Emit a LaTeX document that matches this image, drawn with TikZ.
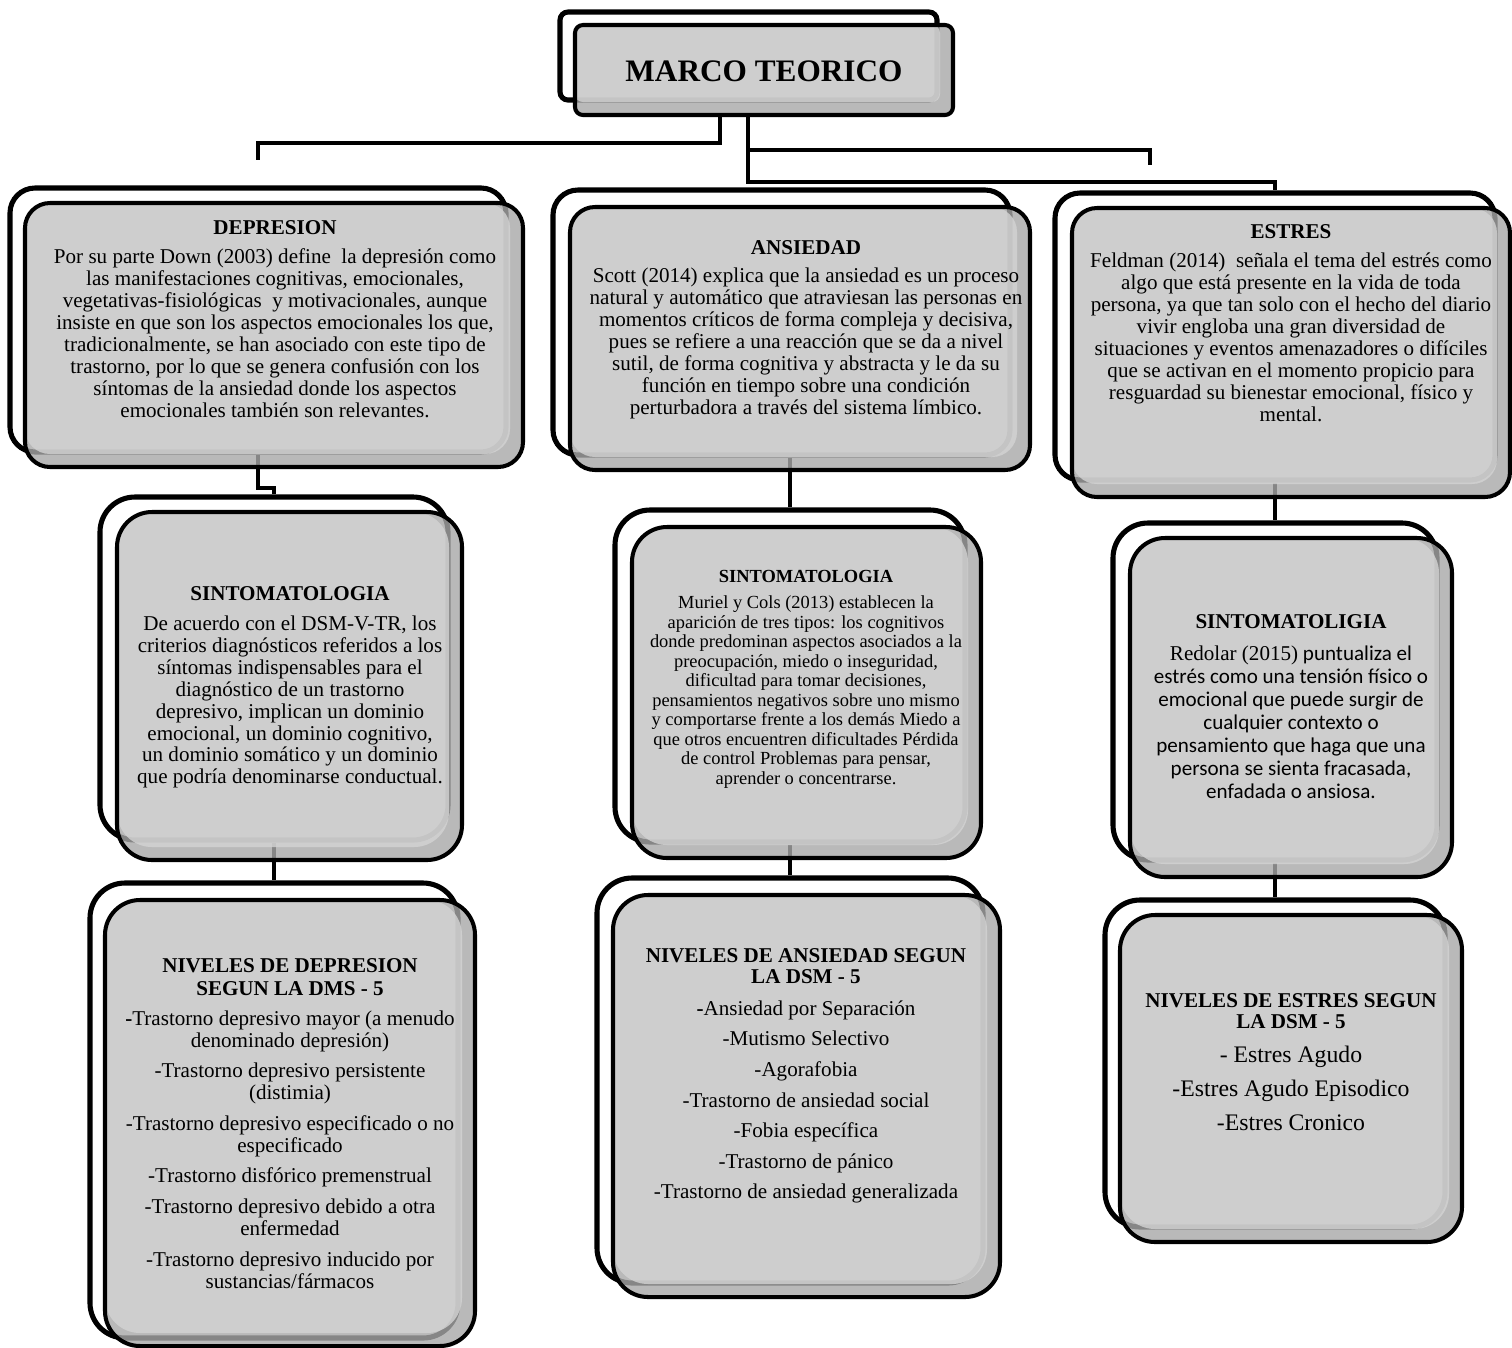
\documentclass[tikz,border=0pt]{standalone}
\usepackage{fontspec}
\setmainfont{Liberation Serif}
\newfontfamily\calibri{Carlito}
\usetikzlibrary{fit,backgrounds}

\definecolor{grisclaro}{HTML}{D4D4D4}
\definecolor{grisoscuro}{HTML}{A8A8A8}

\newcommand{\tit}[1]{{\fontsize{12}{12.5}\selectfont\bfseries #1}}

\tikzset{
	atras/.style={draw, line width=2.9pt, fill=white, inner sep=0pt, rounded corners=#1},
	frente/.style={draw, line width=2.3pt, fill=grisoscuro, fill opacity=0.8, inner sep=0pt, rounded corners=#1,
		path picture={\fill[grisclaro, rounded corners=#1] (path picture bounding box.north west) rectangle ([xshift=-0.26cm, yshift=0.26cm]path picture bounding box.south east);}},
	texto/.style={align=center, inner sep=0pt, anchor=north, font=\fontsize{12}{12.5}\selectfont},
	linea/.style={line width=2.3pt},
}

\begin{document}
\begin{tikzpicture}[x=0.02cm, y=-0.02cm]
	\useasboundingbox (0,0) rectangle (1512,1347);
	\clip (0,0) rectangle (1512,1347);

	\node[atras=0.16cm, fit={(560,12) (937,100)}] (marcoB) {};
	\node[frente=0.16cm, fit={(575,25) (953,115)}] (marco) {};
	\node[atras=0.5cm, fit={(10,188) (506,452)}] (depB) {};
	\node[frente=0.5cm, fit={(25,203) (523,467)}] (dep) {};
	\node[atras=0.5cm, fit={(553,190) (1010,455)}] (ansB) {};
	\node[frente=0.5cm, fit={(570,207) (1030,470)}] (ans) {};
	\node[atras=0.5cm, fit={(1055,193) (1495,480)}] (estB) {};
	\node[frente=0.5cm, fit={(1072,208) (1510,497)}] (est) {};
	\node[atras=0.7cm, fit={(100,497) (448,840)}] (sinLB) {};
	\node[frente=0.7cm, fit={(117,512) (462,860)}] (sinL) {};
	\node[atras=0.7cm, fit={(615,510) (965,842)}] (sinMB) {};
	\node[frente=0.7cm, fit={(632,527) (981,858)}] (sinM) {};
	\node[atras=0.7cm, fit={(1113,523) (1437,860)}] (sinRB) {};
	\node[frente=0.7cm, fit={(1130,538) (1452,877)}] (sinR) {};
	\node[atras=0.7cm, fit={(90,883) (458,1338)}] (nivDB) {};
	\node[frente=0.7cm, fit={(105,900) (475,1346)}] (nivD) {};
	\node[atras=0.7cm, fit={(597,878) (983,1283)}] (nivAB) {};
	\node[frente=0.7cm, fit={(613,895) (1000,1297)}] (nivA) {};
	\node[atras=0.7cm, fit={(1105,900) (1445,1227)}] (nivEB) {};
	\node[frente=0.7cm, fit={(1120,915) (1462,1242)}] (nivE) {};

	\node[texto, font=\fontsize{17.8}{20}\selectfont\bfseries] (marcoT) at (764,60) {MARCO TEORICO};

	\node[texto] (depT) at (275,220) {\tit{DEPRESION}\\[4pt]
		Por su parte Down (2003) define~ la depresión como\\
		las manifestaciones cognitivas, emocionales,\\
		vegetativas-fisiológicas~ y motivacionales, aunque\\
		insiste en que son los aspectos emocionales los que,\\
		tradicionalmente, se han asociado con este tipo de\\
		trastorno, por lo que se genera confusión con los\\
		síntomas de la ansiedad donde los aspectos\\
		emocionales también son relevantes.};

	\node[texto] (ansT) at (806,240) {\tit{ANSIEDAD}\\[3.4pt]
		Scott (2014) explica que la ansiedad es un proceso\\
		natural y automático que atraviesan las personas en\\
		momentos críticos de forma compleja y decisiva,\\
		pues se refiere a una reacción que se da a nivel\\
		sutil, de forma cognitiva y abstracta y le da su\\
		función en tiempo sobre una condición\\
		perturbadora a través del sistema límbico.};

	\node[texto] (estT) at (1291,224) {\tit{ESTRES}\\[4pt]
		Feldman (2014)~ señala el tema del estrés como\\
		algo que está presente en la vida de toda\\
		persona, ya que tan solo con el hecho del diario\\
		vivir engloba una gran diversidad de\\
		situaciones y eventos amenazadores o difíciles\\
		que se activan en el momento propicio para\\
		resguardad su bienestar emocional, físico y\\
		mental.};

	\node[texto] (sinLT) at (290,586) {\tit{SINTOMATOLOGIA}\\[4.5pt]
		De acuerdo con el DSM-V-TR, los\\
		criterios diagnósticos referidos a los\\
		síntomas indispensables para el\\
		diagnóstico de un trastorno\\
		depresivo, implican un dominio\\
		emocional, un dominio cognitivo,\\
		un dominio somático y un dominio\\
		que podría denominarse conductual.};

	\node[texto, font=\fontsize{10.5}{11.1}\selectfont] (sinMT) at (806,570) {\textbf{SINTOMATOLOGIA}\\[3.8pt]
		Muriel y Cols (2013) establecen la\\
		aparición de tres tipos: los cognitivos\\
		donde predominan aspectos asociados a la\\
		preocupación, miedo o inseguridad,\\
		dificultad para tomar decisiones,\\
		pensamientos negativos sobre uno mismo\\
		y comportarse frente a los demás Miedo a\\
		que otros encuentren dificultades Pérdida\\
		de control Problemas para pensar,\\
		aprender o concentrarse.};

	\node[texto, font=\calibri\fontsize{12}{13.1}\selectfont] (sinRT) at (1291,614) {\textrm{\tit{SINTOMATOLIGIA}}\\[5.1pt]
		\textrm{Redolar (2015)} puntualiza el\\
		estrés como una tensión físico o\\
		emocional que puede surgir de\\
		cualquier contexto o\\
		pensamiento que haga que una\\
		persona se sienta fracasada,\\
		enfadada o ansiosa.};

	\node[texto] (nivDT) at (290,958) {\tit{NIVELES DE DEPRESION}\\[0.6pt]
		\tit{SEGUN LA DMS - 5}\\[4.6pt]
		\textbf{-}Trastorno depresivo mayor (a menudo\\
		denominado depresión)\\[4.9pt]
		-Trastorno depresivo persistente\\
		(distimia)\\[4.9pt]
		-Trastorno depresivo especificado o no\\
		especificado\\[4.9pt]
		-Trastorno disfórico premenstrual\\[4.9pt]
		-Trastorno depresivo debido a otra\\
		enfermedad\\[4.9pt]
		-Trastorno depresivo inducido por\\
		sustancias/fármacos};

	\node[texto] (nivAT) at (806,948) {\tit{NIVELES DE ANSIEDAD SEGUN}\\[-0.5pt]
		\tit{LA DSM - 5}\\[5.7pt]
		\textbf{-}Ansiedad por Separación\\[4.9pt]
		-Mutismo Selectivo\\[4.9pt]
		-Agorafobia\\[4.9pt]
		-Trastorno de ansiedad social\\[4.9pt]
		-Fobia específica\\[4.9pt]
		-Trastorno de pánico\\[4.9pt]
		-Trastorno de ansiedad generalizada};

	\node[texto, font=\fontsize{13.5}{19.4}\selectfont] (nivET) at (1291,993) {\tit{NIVELES DE ESTRES SEGUN}\\[-7.4pt]
		\tit{LA DSM - 5}\\
		- Estres Agudo\\
		-Estres Agudo Episodico\\
		-Estres Cronico};

	\coordinate (q1) at (720,143);
	\coordinate (f1) at (258,160);
	\coordinate (q2) at (748,182);
	\coordinate (q3) at (748,150);
	\coordinate (f3) at (1150,165);

	\begin{scope}[on background layer]
		\draw[linea] (marco.south -| q1) -- (q1) -| (f1);
		\draw[linea] (marco.south -| q2) -- (q2) -| (estB.north);
		\draw[linea] (q3) -| (f3);
		\draw[linea] (depB.south) -- ++(0,33) -| (sinLB.north);
		\draw[linea] (sinLB.south) -- (sinLB.south |- nivDB.north);
		\draw[linea] (ansB.south -| sinMB.north) -- (sinMB.north);
		\draw[linea] (sinMB.south) -- (sinMB.south |- nivAB.north);
		\draw[linea] (estB.south) -- (estB.south |- sinRB.north);
		\draw[linea] (sinRB.south) -- (sinRB.south |- nivEB.north);
	\end{scope}
\end{tikzpicture}
\end{document}
